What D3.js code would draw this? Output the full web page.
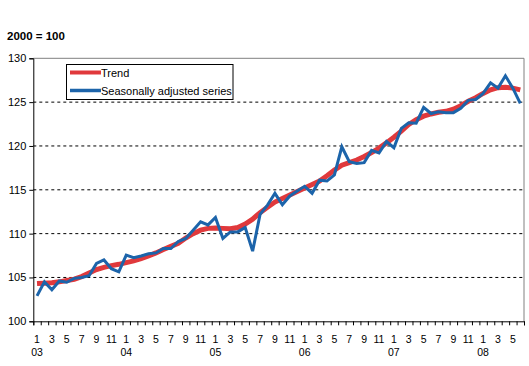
<!DOCTYPE html>
<html>
<head>
<meta charset="utf-8">
<script src="https://cdn.jsdelivr.net/npm/d3@7"></script>
<style>
  body { margin: 0; background: #fff; }
  text { font-family: Arial, "Liberation Sans", sans-serif; }
</style>
</head>
<body>
<div id="chart"></div>
<script>
// Data ----------------------------------------------
const years = ["03", "04", "05", "06", "07", "08"];
const monthsInLastYear = 6;

const seasonal = [
  102.9, 104.5, 103.6, 104.6, 104.45, 104.9, 105.0, 105.2, 106.6, 107.0, 106.0, 105.65,
  107.55, 107.25, 107.45, 107.7, 107.8, 108.3, 108.3, 109.1, 109.45, 110.4, 111.35, 111.0,
  111.85, 109.45, 110.2, 110.2, 110.7, 108.0, 112.2, 113.25, 114.6, 113.3, 114.3, 114.85,
  115.4, 114.6, 116.1, 116.0, 116.7, 119.9, 118.2, 118.0, 118.1, 119.5, 119.2, 120.5,
  119.8, 122.0, 122.65, 122.6, 124.4, 123.7, 123.9, 123.8, 123.8, 124.3, 125.2, 125.3,
  126.0, 127.2, 126.6, 128.0, 126.6, 124.85
];

const trend = [
  104.3, 104.35, 104.4, 104.5, 104.65, 104.8, 105.1, 105.5, 105.9, 106.15, 106.35, 106.5,
  106.7, 106.9, 107.15, 107.45, 107.8, 108.2, 108.55, 108.9, 109.5, 110.0, 110.4, 110.6,
  110.65, 110.6, 110.55, 110.7, 111.1, 111.65, 112.4, 113.0, 113.6, 114.0, 114.4, 114.8,
  115.2, 115.6, 116.0, 116.6, 117.25, 117.8, 118.1, 118.4, 118.8, 119.25, 119.75, 120.35,
  121.0, 121.7, 122.45, 123.0, 123.4, 123.65, 123.85, 123.95, 124.2, 124.6, 125.1, 125.5,
  126.0, 126.4, 126.65, 126.7, 126.6, 126.4
];

const yTicks = [100, 105, 110, 115, 120, 125, 130];
const legendLabels = ["Trend", "Seasonally adjusted series"];

// Constants ----------------------------------------------
const width = 529;
const height = 366;
const plot = {left: 33.3, right: 524, top: 58.3, bottom: 321.3};
const trendColor = "#e0393c";
const seasonalColor = "#1c64aa";

const n = seasonal.length;

// Scales ----------------------------------------------
const x = d3.scaleLinear()
  .domain([0, n])
  .range([plot.left, plot.right]);

const y = d3.scaleLinear()
  .domain([100, 130])
  .range([plot.bottom, plot.top]);

const svg = d3.select("#chart")
  .append("svg")
  .attr("width", width)
  .attr("height", height);

// Title
svg.append("text")
  .attr("x", 7)
  .attr("y", 40)
  .attr("font-size", 11.5)
  .attr("font-weight", "bold")
  .text("2000 = 100");

// Gridlines
svg.append("g")
  .selectAll("line")
  .data(yTicks.filter(d => d > 100 && d < 130))
  .enter()
  .append("line")
  .attr("x1", plot.left)
  .attr("x2", plot.right)
  .attr("y1", d => y(d))
  .attr("y2", d => y(d))
  .attr("stroke", "#000")
  .attr("stroke-width", 1)
  .attr("stroke-dasharray", "3,3");

// Top and right frame
svg.append("path")
  .attr("d", `M${plot.left},${y(130)}H${plot.right}V${plot.bottom}`)
  .attr("fill", "none")
  .attr("stroke", "#808080")
  .attr("stroke-width", 1);

// Y axis
const yAxis = svg.append("g")
  .attr("transform", `translate(${plot.left},0)`)
  .call(d3.axisLeft(y).tickValues(yTicks).tickSize(4).tickPadding(3));
yAxis.select(".domain").attr("stroke", "#000");
yAxis.selectAll("text").attr("font-size", 11).attr("fill", "#000")
  .attr("font-family", "Arial, 'Liberation Sans', sans-serif");

// X axis (ticks at month boundaries)
const xAxis = svg.append("g")
  .attr("transform", `translate(0,${plot.bottom})`)
  .call(d3.axisBottom(x).tickValues(d3.range(0, n + 1)).tickSize(4).tickFormat(""));
xAxis.select(".domain").attr("stroke", "#000");

// Month labels
svg.append("g")
  .selectAll("text")
  .data(d3.range(0, n).filter(i => i % 2 === 0))
  .enter()
  .append("text")
  .attr("x", i => x(i + 0.5))
  .attr("y", 343)
  .attr("text-anchor", "middle")
  .attr("font-size", 10.5)
  .text(i => (i % 12) + 1);

// Year labels
svg.append("g")
  .selectAll("text")
  .data(years)
  .enter()
  .append("text")
  .attr("x", (d, i) => x(i * 12 + 0.5))
  .attr("y", 356)
  .attr("text-anchor", "middle")
  .attr("font-size", 10.5)
  .text(d => d);

// Lines
const line = d3.line()
  .x((d, i) => x(i + 0.5))
  .y(d => y(d));

svg.append("path")
  .datum(trend)
  .attr("d", line)
  .attr("fill", "none")
  .attr("stroke", trendColor)
  .attr("stroke-width", 5);

svg.append("path")
  .datum(seasonal)
  .attr("d", line)
  .attr("fill", "none")
  .attr("stroke", seasonalColor)
  .attr("stroke-width", 3)
  .attr("stroke-linejoin", "miter");

// Legend
const legend = svg.append("g");
legend.append("rect")
  .attr("x", 66.5)
  .attr("y", 64.5)
  .attr("width", 166.5)
  .attr("height", 35)
  .attr("fill", "#fff")
  .attr("stroke", "#000")
  .attr("stroke-width", 1);

const legendItems = legend.selectAll("g.item")
  .data(legendLabels)
  .enter()
  .append("g")
  .attr("class", "item")
  .attr("transform", (d, i) => `translate(70,${72.5 + i * 18})`);

legendItems.append("line")
  .attr("x1", 0)
  .attr("x2", 31)
  .attr("stroke", (d, i) => i === 0 ? trendColor : seasonalColor)
  .attr("stroke-width", (d, i) => i === 0 ? 4 : 3.5);

legendItems.append("text")
  .attr("x", 31)
  .attr("y", 4)
  .attr("font-size", 11)
  .text(d => d);
</script>
</body>
</html>
